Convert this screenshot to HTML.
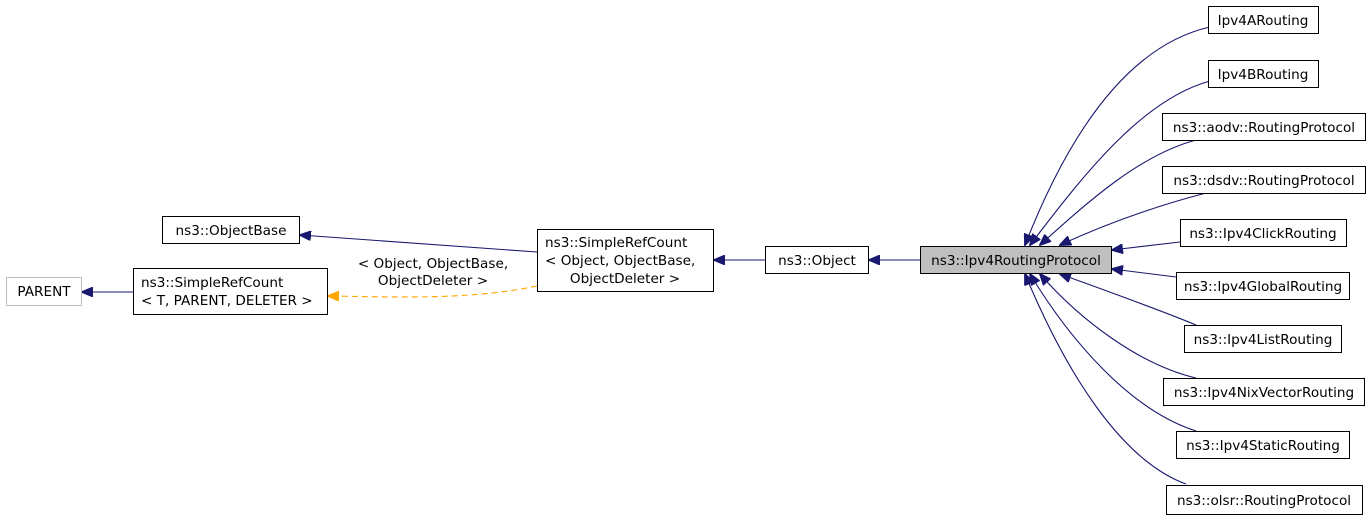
<!DOCTYPE html>
<html><head><style>
body{margin:0;background:#fff;width:1371px;height:520px;overflow:hidden}
text{font-family:"DejaVu Sans","Liberation Sans",sans-serif;font-size:13.6px;fill:#000}
</style></head><body>
<svg width="1371" height="520" viewBox="0 0 1371 520" xmlns="http://www.w3.org/2000/svg">
<defs>
<marker id="a" markerWidth="12" markerHeight="10" refX="11" refY="5" orient="auto" markerUnits="userSpaceOnUse"><path d="M0,0 L12,5 L0,10 z" fill="#191970" stroke="#191970"/></marker>
<marker id="o" markerWidth="12" markerHeight="10" refX="11" refY="5" orient="auto" markerUnits="userSpaceOnUse"><path d="M0,0 L12,5 L0,10 z" fill="orange" stroke="orange"/></marker>
</defs>
<g fill="none" stroke="#191970" stroke-width="1.1" marker-end="url(#a)">
<path d="M1210,27 C1130,45 1070,130 1025,245"/>
<path d="M1210,81 C1140,100 1080,180 1030,245"/>
<path d="M1196,140 C1140,155 1090,200 1040,245"/>
<path d="M1206,193 C1160,205 1110,222 1060,245"/>
<path d="M1180,242 L1112,250"/>
<path d="M1176,277 L1112,269"/>
<path d="M1196,325 C1160,310 1110,292 1060,274"/>
<path d="M1196,378 C1140,365 1080,320 1040,274"/>
<path d="M1196,431 C1130,410 1070,340 1030,274"/>
<path d="M1186,484 C1120,460 1065,370 1025,274"/>
<path d="M920,260 L869,260"/>
<path d="M765,260 L714,260"/>
<path d="M537,252 L300,235"/>
<path d="M133,292 L82,292"/>
</g>
<path d="M537,286 C470,300 400,297 328,296" fill="none" stroke="orange" stroke-width="1.1" stroke-dasharray="6,4" marker-end="url(#o)"/>
<g stroke="#000" stroke-width="1" fill="#fff">
<rect x="1208.5" y="6.5" width="110" height="27"/>
<rect x="1208.5" y="60.5" width="110" height="27"/>
<rect x="1162.5" y="113.5" width="203" height="27"/>
<rect x="1162.5" y="166.5" width="203" height="27"/>
<rect x="1180.5" y="219.5" width="166" height="27"/>
<rect x="1176.5" y="272.5" width="173" height="27"/>
<rect x="1184.5" y="325.5" width="157" height="27"/>
<rect x="1163.5" y="378.5" width="201" height="27"/>
<rect x="1176.5" y="431.5" width="173" height="27"/>
<rect x="1166.5" y="485.5" width="196" height="29"/>
<rect x="920.5" y="246.5" width="191" height="27" fill="#bfbfbf"/>
<rect x="765.5" y="246.5" width="103" height="27"/>
<rect x="537.5" y="229.5" width="176" height="62"/>
<rect x="162.5" y="216.5" width="137" height="27"/>
<rect x="133.5" y="268.5" width="194" height="46"/>
<rect x="6.5" y="277.5" width="75" height="28" stroke="#bfbfbf"/>
</g>
<g text-anchor="middle">
<text x="1263" y="25">Ipv4ARouting</text>
<text x="1263" y="79">Ipv4BRouting</text>
<text x="1264" y="132">ns3::aodv::RoutingProtocol</text>
<text x="1264" y="185">ns3::dsdv::RoutingProtocol</text>
<text x="1263" y="238">ns3::Ipv4ClickRouting</text>
<text x="1263" y="291">ns3::Ipv4GlobalRouting</text>
<text x="1263" y="344">ns3::Ipv4ListRouting</text>
<text x="1264" y="397">ns3::Ipv4NixVectorRouting</text>
<text x="1263" y="450">ns3::Ipv4StaticRouting</text>
<text x="1264" y="505">ns3::olsr::RoutingProtocol</text>
<text x="1016" y="265">ns3::Ipv4RoutingProtocol</text>
<text x="817" y="265">ns3::Object</text>
<text x="625" y="283">ObjectDeleter &gt;</text>
<text x="231" y="235">ns3::ObjectBase</text>
<text x="44" y="296">PARENT</text>
<text x="433" y="268">&lt; Object, ObjectBase,</text>
<text x="433" y="285">ObjectDeleter &gt;</text>
</g>
<text x="545" y="247">ns3::SimpleRefCount</text>
<text x="545" y="265">&lt; Object, ObjectBase,</text>
<text x="141" y="287">ns3::SimpleRefCount</text>
<text x="141" y="305">&lt; T, PARENT, DELETER &gt;</text>
</svg>
</body></html>
